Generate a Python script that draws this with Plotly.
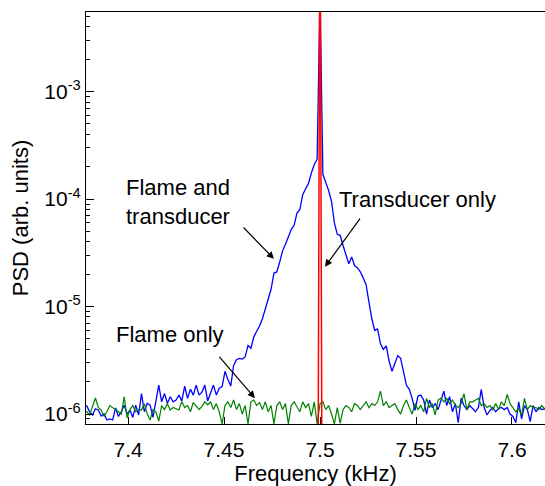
import plotly.graph_objects as go

# Frequency axis (kHz)
freq_khz = [
    7.377, 7.3785, 7.380, 7.3815, 7.383, 7.3845, 7.386, 7.3875, 7.389, 7.3905,
    7.392, 7.3935, 7.395, 7.3965, 7.398, 7.3995, 7.401, 7.4025, 7.404, 7.4055,
    7.407, 7.4085, 7.410, 7.4115, 7.413, 7.4145, 7.416, 7.4175, 7.419, 7.4205,
    7.422, 7.4235, 7.425, 7.4265, 7.428, 7.4295, 7.431, 7.4325, 7.434, 7.4355,
    7.437, 7.4385, 7.440, 7.4415, 7.443, 7.4445, 7.446, 7.4475, 7.449, 7.4505,
    7.452, 7.4535, 7.455, 7.4565, 7.458, 7.4595, 7.461, 7.4625, 7.464, 7.4655,
    7.467, 7.4685, 7.470, 7.4715, 7.473, 7.4745, 7.476, 7.4775, 7.479, 7.4805,
    7.482, 7.4835, 7.485, 7.4865, 7.488, 7.4895, 7.491, 7.4925, 7.494, 7.4955,
    7.497, 7.4985, 7.500, 7.5015, 7.503, 7.5045, 7.506, 7.5075, 7.509, 7.5105,
    7.512, 7.5135, 7.515, 7.5165, 7.518, 7.5195, 7.521, 7.5225, 7.524, 7.5255,
    7.527, 7.5285, 7.530, 7.5315, 7.533, 7.5345, 7.536, 7.5375, 7.539, 7.5405,
    7.542, 7.5435, 7.545, 7.5465, 7.548, 7.5495, 7.551, 7.5525, 7.554, 7.5555,
    7.557, 7.5585, 7.560, 7.5615, 7.563, 7.5645, 7.566, 7.5675, 7.569, 7.5705,
    7.572, 7.5735, 7.575, 7.5765, 7.578, 7.5795, 7.581, 7.5825, 7.584, 7.5855,
    7.587, 7.5885, 7.590, 7.5915, 7.593, 7.5945, 7.596, 7.5975, 7.599, 7.6005,
    7.602, 7.6035, 7.605, 7.6065, 7.608, 7.6095, 7.611, 7.6125, 7.614, 7.6155,
    7.617, 7.6185, 7.620,
]

# "Flame and transducer" PSD, in units of 1e-6 (arb.)
psd_flame_transducer_micro = [
    1.15, 1.19, 1.05, 0.98, 1.12, 1.09, 0.96, 1.0, 0.88, 0.9,
    0.88, 1.14, 0.95, 1.05, 1.21, 1.0, 1.09, 0.93, 1.21, 0.98,
    1.55, 1.05, 1.26, 1.21, 0.93, 1.3, 1.86, 1.3, 1.55, 1.26,
    1.45, 1.3, 1.35, 1.5, 1.32, 1.82, 1.4, 1.7, 1.5, 1.86,
    1.5, 1.6, 1.86, 1.32, 1.6, 1.86, 1.5, 1.74, 1.8, 2.5,
    2.1, 1.82, 2.84, 3.2, 3.3, 3.25, 3.4, 4.35, 4.1, 5.2,
    5.9, 6.6, 7.7, 9.6, 11.9, 14.5, 20.5, 21.0, 26.0, 33.0,
    38.0, 44.0, 52.0, 57.0, 74.0, 80.0, 110.0, 125.0, 140.0, 175.0,
    210.0, 235.0, 8000.0, 170.0, 145.0, 120.0, 95.0, 60.0, 47.0, 46.0,
    37.0, 30.0, 25.0, 29.0, 24.0, 23.0, 21.0, 18.5, 16.0, 11.0,
    7.7, 6.0, 6.2, 4.5, 4.0, 4.3, 3.1, 2.5, 3.0, 3.5,
    3.3, 2.4, 1.86, 1.7, 1.4, 1.08, 1.47, 1.5, 1.35, 1.0,
    1.35, 1.15, 1.25, 1.1, 1.35, 1.63, 1.2, 1.45, 1.05, 1.25,
    0.83, 1.4, 1.2, 1.1, 1.2, 1.12, 1.05, 1.15, 1.7, 1.15,
    0.98, 1.08, 1.15, 1.05, 1.12, 1.15, 1.1, 1.15, 1.0, 0.95,
    0.83, 1.3, 0.9, 1.2, 1.1, 0.85, 1.2, 1.05, 1.15, 1.1,
    1.12, 1.08, 1.1,
]

# "Flame only" PSD, in units of 1e-6 (arb.)
psd_flame_micro = [
    1.1, 1.05, 0.98, 1.2, 1.41, 1.15, 1.09, 0.95, 1.05, 1.2,
    1.15, 1.09, 1.05, 0.99, 1.45, 0.92, 1.1, 1.2, 1.05, 1.1,
    1.09, 1.25, 1.0, 0.88, 1.1, 1.05, 0.86, 1.2, 1.1, 1.25,
    1.09, 1.15, 1.12, 1.09, 1.3, 1.15, 1.2, 1.05, 1.28, 1.2,
    1.1, 1.18, 1.3, 1.22, 1.3, 1.1, 1.25, 1.05, 0.81, 1.2,
    1.3, 1.15, 1.35, 1.1, 1.25, 1.0, 1.2, 0.81, 1.3, 1.35,
    1.2, 1.28, 1.1, 1.3, 1.05, 1.2, 0.81, 1.2, 1.3, 1.1,
    1.25, 0.81, 1.2, 1.3, 1.15, 1.05, 1.3, 1.15, 1.25, 0.95,
    1.3, 0.81, 1.25, 1.3, 1.1, 1.2, 1.0, 0.81, 1.15, 0.82,
    1.1, 1.2, 1.15, 1.05, 1.25, 1.2, 1.1, 1.2, 1.3, 1.15,
    1.25, 1.2, 1.3, 1.63, 1.2, 1.3, 1.15, 1.2, 1.25, 1.1,
    1.0, 1.2, 1.35, 1.15, 1.0, 1.25, 1.1, 1.2, 1.05, 1.4,
    1.15, 1.25, 0.98, 1.35, 1.41, 1.3, 1.4, 1.25, 1.35, 1.2,
    1.15, 1.25, 1.55, 1.1, 1.3, 1.3, 1.35, 1.4, 1.2, 1.25,
    1.15, 1.2, 1.1, 1.25, 1.1, 1.3, 1.2, 1.52, 1.25, 1.15,
    1.05, 1.12, 0.98, 1.4, 1.1, 1.2, 1.15, 1.15, 1.1, 1.2,
    1.12, 1.15, 1.1,
]

# "Transducer only": narrow tone at 7.5 kHz, floor below the plotted range
freq_transducer_khz = [7.377, 7.499, 7.500, 7.501, 7.620]
psd_transducer = [3e-7, 3e-7, 1e-1, 3e-7, 3e-7]

x_tick_vals = [7.4, 7.45, 7.5, 7.55, 7.6]
x_tick_text = ["7.4", "7.45", "7.5", "7.55", "7.6"]
y_tick_vals = [1e-6, 1e-5, 1e-4, 1e-3]
y_tick_text = ["10<sup>-6</sup>", "10<sup>-5</sup>", "10<sup>-4</sup>", "10<sup>-3</sup>"]
y_minor_vals = [m * 10.0 ** e for e in range(-7, -2) for m in range(2, 10)]

assert len(freq_khz) == len(psd_flame_transducer_micro) == len(psd_flame_micro)

psd_flame_transducer = [v * 1e-6 for v in psd_flame_transducer_micro]
psd_flame = [v * 1e-6 for v in psd_flame_micro]

FONT = "Liberation Sans, Arial, sans-serif"

fig = go.Figure()
fig.add_trace(go.Scatter(x=freq_khz, y=psd_flame_transducer, mode="lines",
                         line=dict(color="#0000ff", width=1.3), name="Flame and transducer"))
fig.add_trace(go.Scatter(x=freq_khz, y=psd_flame, mode="lines",
                         line=dict(color="#008000", width=1.2), name="Flame only"))
fig.add_trace(go.Scatter(x=freq_transducer_khz, y=psd_transducer, mode="lines",
                         line=dict(color="#ff0000", width=1.5), name="Transducer only"))

ann_font = dict(family=FONT, size=22, color="black")
annotations = [
    dict(x=7.3979, y=-4.028, xref="x", yref="y", text="Flame and<br>transducer",
         showarrow=False, xanchor="left", yanchor="middle", align="left", font=ann_font),
    dict(x=7.5089, y=-4.0, xref="x", yref="y", text="Transducer only",
         showarrow=False, xanchor="left", yanchor="middle", align="left", font=ann_font),
    dict(x=7.3927, y=-5.259, xref="x", yref="y", text="Flame only",
         showarrow=False, xanchor="left", yanchor="middle", align="left", font=ann_font),
    dict(x=7.476, y=-4.556, ax=7.4594, ay=-4.25, xref="x", yref="y", axref="x", ayref="y",
         text="", showarrow=True, arrowhead=2, arrowsize=1.2, arrowwidth=1.2, arrowcolor="black"),
    dict(x=7.5026, y=-4.63, ax=7.5214, ay=-4.167, xref="x", yref="y", axref="x", ayref="y",
         text="", showarrow=True, arrowhead=2, arrowsize=1.2, arrowwidth=1.2, arrowcolor="black"),
    dict(x=7.4661, y=-5.852, ax=7.4469, ay=-5.454, xref="x", yref="y", axref="x", ayref="y",
         text="", showarrow=True, arrowhead=2, arrowsize=1.2, arrowwidth=1.2, arrowcolor="black"),
]

fig.update_layout(
    width=545, height=486,
    margin=dict(l=86, r=0, t=12, b=60),
    paper_bgcolor="white", plot_bgcolor="white",
    showlegend=False,
    font=dict(family=FONT, size=21, color="black"),
    annotations=annotations,
    xaxis=dict(
        range=[7.3781, 7.6172], tickmode="array", tickvals=x_tick_vals, ticktext=x_tick_text,
        ticks="inside", ticklen=7, tickwidth=1, tickcolor="black",
        showline=True, linecolor="black", linewidth=1.2, mirror=True,
        showgrid=False, zeroline=False, ticklabelstandoff=7,
        title=dict(text="Frequency (kHz)", font=dict(family=FONT, size=22), standoff=9),
        tickfont=dict(family=FONT, size=21),
    ),
    yaxis=dict(
        type="log", range=[-6.0926, -2.259], tickmode="array", tickvals=y_tick_vals,
        ticktext=y_tick_text,
        ticks="inside", ticklen=8, tickwidth=1, tickcolor="black",
        minor=dict(tickmode="array", tickvals=y_minor_vals, ticks="inside", ticklen=4,
                   tickwidth=1, tickcolor="black", showgrid=False),
        showline=True, linecolor="black", linewidth=1.2, mirror=False,
        showgrid=False, zeroline=False,
        title=dict(text="PSD (arb. units)", font=dict(family=FONT, size=22), standoff=9),
        tickfont=dict(family=FONT, size=21),
    ),
)

fig.write_html("out.html")
